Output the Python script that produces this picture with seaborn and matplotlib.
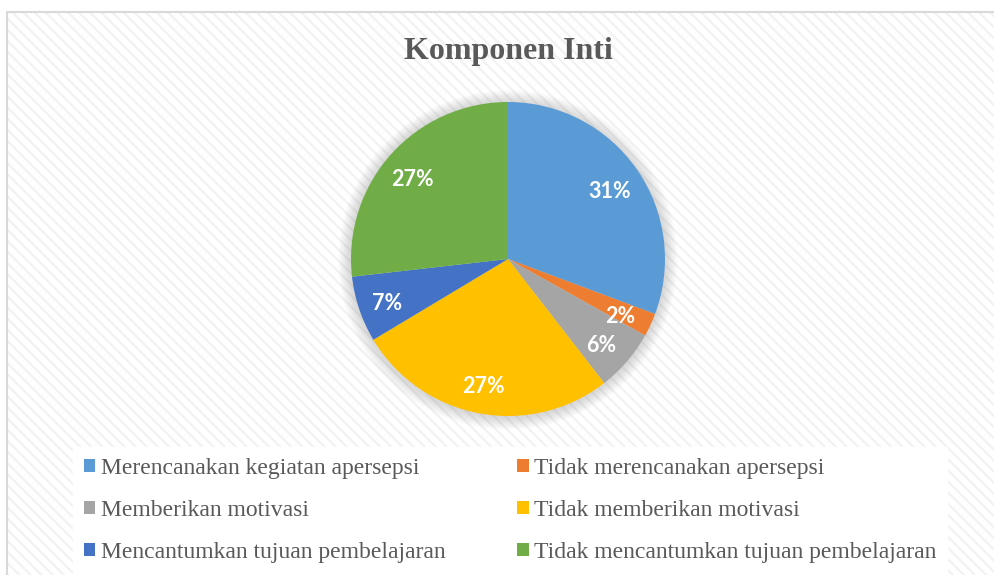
import matplotlib
matplotlib.use("Agg")
import matplotlib.pyplot as plt
import seaborn as sns
from matplotlib.patches import Rectangle, Patch, Circle

categories = [
    "Merencanakan kegiatan apersepsi",
    "Tidak merencanakan apersepsi",
    "Memberikan motivasi",
    "Tidak memberikan motivasi",
    "Mencantumkan tujuan pembelajaran",
    "Tidak mencantumkan tujuan pembelajaran",
]
values = [30.7, 2.4, 6.4, 26.9, 6.8, 26.8]
colors = ["#5B9BD5", "#ED7D31", "#A5A5A5", "#FFC000", "#4472C4", "#70AD47"]
title = "Komponen Inti"

sns.set_theme(style="white")
plt.rcParams["font.family"] = ["Liberation Serif", "DejaVu Serif"]
plt.rcParams["hatch.linewidth"] = 1.6

W, H = 995, 575
fig = plt.figure(figsize=(W / 100, H / 100), dpi=100)
fig.patch.set_facecolor("white")

# chart area background with faint diagonal stripes
bg = Rectangle((7 / W, 0), 1, 1 - 12 / H, transform=fig.transFigure,
               facecolor="white", edgecolor="#f2f2f2", hatch="\\\\\\",
               linewidth=0, zorder=-5)
fig.patches.append(bg)
border = Rectangle((7 / W, -0.01), 1.1, 1 - 12 / H + 0.01, transform=fig.transFigure,
                   facecolor="none", edgecolor="#d9d9d9", linewidth=1.5, zorder=-4)
fig.patches.append(border)

cx, cy, r = 508, 259, 157
ax = fig.add_axes([(cx - r) / W, (H - cy - r) / H, 2 * r / W, 2 * r / H])
ax.set_facecolor("none")

# soft shadow around pie
for i in range(10):
    ax.add_patch(Circle((0, -0.005), 1.0 + 0.008 * (i + 1), color="#808080",
                        alpha=0.03, lw=0, zorder=0, clip_on=False))

palette = sns.color_palette(colors)
wedges, texts, autotexts = ax.pie(
    values, colors=palette, startangle=90, counterclock=False,
    autopct="%.0f%%", pctdistance=0.8, radius=1.0,
    textprops=dict(color="white", fontsize=15.5, fontweight="bold",
                   family=["Lato", "DejaVu Sans"]),
    wedgeprops=dict(linewidth=0),
)
for w in wedges:
    w.set_zorder(2)
for t in autotexts:
    t.set_zorder(3)
    x, y = t.get_position()
    t.set_position((x - 0.01, y - 0.027))
ax.set_xlim(-1, 1)
ax.set_ylim(-1, 1)
ax.set_aspect("equal")
ax.axis("off")

fig.text(508 / W, 1 - 52 / H, title, ha="center", va="center",
         fontsize=23, fontweight="bold", color="#595959")

order = [0, 2, 4, 1, 3, 5]
handles = [Patch(facecolor=colors[i], edgecolor="none") for i in order]
labels = [categories[i] for i in order]
leg = fig.legend(handles, labels, ncol=2, loc="upper left",
                 bbox_to_anchor=(73 / W, 1 - 447 / H),
                 frameon=True, fancybox=False, framealpha=1,
                 facecolor="white", edgecolor="white",
                 fontsize=17, handlelength=0.5, handleheight=0.5,
                 handletextpad=0.25, labelspacing=0.9, columnspacing=3.0,
                 borderpad=0.45, borderaxespad=0)
for t in leg.get_texts():
    t.set_color("#595959")

fig.savefig("out.png", dpi=100)
